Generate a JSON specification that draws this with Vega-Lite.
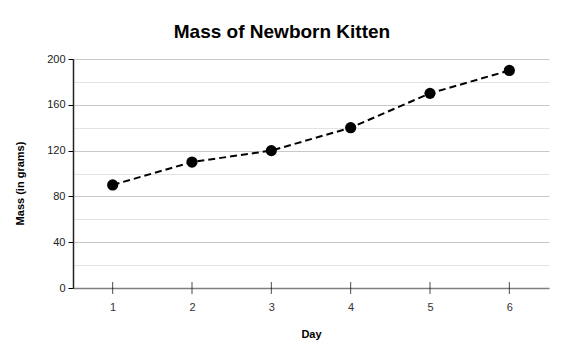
{
  "$schema": "https://vega.github.io/schema/vega-lite/v6.json",
  "width": 476,
  "height": 229,
  "autosize": {"type": "none"},
  "padding": {"left": 73, "top": 59, "right": 22, "bottom": 64},
  "background": "white",
  "title": {
    "text": "Mass of Newborn Kitten",
    "font": "Liberation Sans",
    "fontSize": 19,
    "fontWeight": "bold",
    "color": "#000000",
    "anchor": "middle",
    "dx": -29,
    "baseline": "alphabetic",
    "offset": -4
  },
  "config": {
    "view": {"stroke": null},
    "axis": {"labelFont": "Liberation Sans", "titleFont": "Liberation Sans"}
  },
  "data": {
    "values": [
      {"day": 1, "mass": 90},
      {"day": 2, "mass": 110},
      {"day": 3, "mass": 120},
      {"day": 4, "mass": 140},
      {"day": 5, "mass": 170},
      {"day": 6, "mass": 190}
    ]
  },
  "encoding": {
    "x": {
      "field": "day",
      "type": "quantitative",
      "scale": {"domain": [0.5, 6.5], "nice": false, "zero": false},
      "axis": {
        "values": [1, 2, 3, 4, 5, 6],
        "title": "Day",
        "titleFontSize": 11,
        "titleFontWeight": "bold",
        "titleColor": "#000000",
        "titlePadding": 16,
        "labelFontSize": 11,
        "labelColor": "#333333",
        "labelPadding": 13,
        "domainColor": "#808080",
        "domainWidth": 1.5,
        "tickColor": "#000000",
        "tickSize": 0,
        "grid": false
      }
    },
    "y": {
      "field": "mass",
      "type": "quantitative",
      "scale": {"domain": [0, 200], "nice": false},
      "axis": {
        "values": [0, 20, 40, 60, 80, 100, 120, 140, 160, 180, 200],
        "labelExpr": "datum.value % 40 == 0 ? datum.label : ''",
        "title": "Mass (in grams)",
        "titleFontSize": 11,
        "titleFontWeight": "bold",
        "titleColor": "#000000",
        "titlePadding": 21,
        "titleY": 124,
        "titleAlign": "center",
        "labelFontSize": 11,
        "labelColor": "#222222",
        "labelPadding": 3,
        "domainColor": "#222222",
        "domainWidth": 1.5,
        "tickColor": "#000000",
        "tickSize": 5,
        "tickOpacity": {"condition": {"test": "datum.value % 40 != 0", "value": 0}, "value": 1},
        "grid": true,
        "gridColor": {"condition": {"test": "datum.value % 40 != 0", "value": "#e3e3e3"}, "value": "#c8c8c8"},
        "gridWidth": 1
      }
    }
  },
  "layer": [
    {
      "mark": {"type": "tick", "orient": "vertical", "color": "#000000", "thickness": 1, "size": 12},
      "encoding": {"y": {"datum": 0}}
    },
    {
      "mark": {"type": "line", "color": "#000000", "strokeWidth": 2, "strokeDash": [7, 4]}
    },
    {
      "mark": {"type": "point", "filled": true, "color": "#000000", "opacity": 1, "size": 125}
    }
  ]
}
